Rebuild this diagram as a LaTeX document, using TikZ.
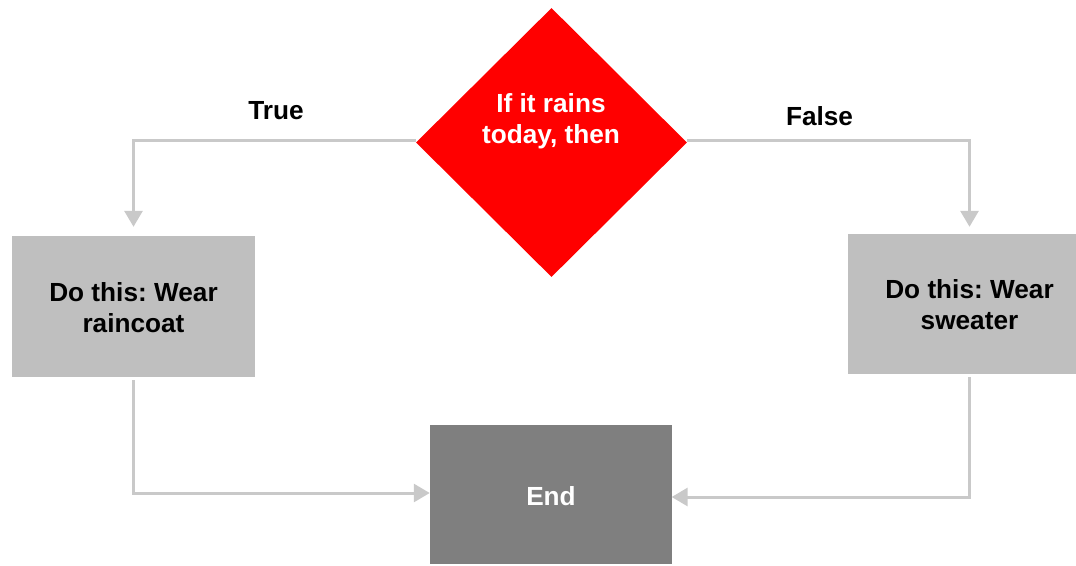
\documentclass[tikz,border=0pt]{standalone}
\usepackage{fontspec}
\setmainfont{Liberation Sans}
\usetikzlibrary{shapes.geometric,arrows.meta}
\definecolor{boxgray}{HTML}{BFBFBF}
\definecolor{endgray}{HTML}{7F7F7F}
\definecolor{linegray}{HTML}{C9C9C9}
\definecolor{decred}{HTML}{FF0000}
\frenchspacing
\begin{document}
\begin{tikzpicture}[x=1pt,y=-1pt,
  txt/.style={font=\fontsize{26.2}{31}\selectfont\bfseries\frenchspacing, align=center, inner sep=0pt},
  actbox/.style={rectangle, fill=boxgray, inner sep=0pt, minimum width=243pt, minimum height=141pt},
  endbox/.style={rectangle, fill=endgray, inner sep=0pt, minimum width=242.5pt, minimum height=139pt},
  decision/.style={diamond, fill=decred, inner sep=0pt, minimum width=271pt, minimum height=269pt},
  conn/.style={draw=linegray, line width=3pt, -{Triangle[length=16pt,width=18pt]}}
]
\useasboundingbox (0,0) rectangle (1076,565);
\clip (0,0) rectangle (1076,565);
\node[decision] (d) at (551.5,142.5) {};
\node[txt, text=white] (dt) at (551,121) {If it rains\\today, then};
\node[actbox] (r) at (133.5,306.5) {};
\node[txt] (rt) at (133.5,308) {Do this: Wear\\raincoat};
\node[actbox, minimum height=140pt] (s) at (969.5,304) {};
\node[txt] (st) at (969.5,304.5) {Do this: Wear\\sweater};
\node[endbox] (e) at (551.2,494.5) {};
\node[txt, text=white] (et) at (551,496) {End};
\node[txt] (t) at (276,110.5) {True};
\node[txt] (f) at (819.5,116) {False};
\draw[conn, shorten >=9pt] ([yshift=2pt]d.west) -| (r.north);
\draw[conn, shorten >=7pt] ([yshift=2pt]d.east) -| (s.north);
\draw[conn, shorten <=3pt] (r.south) |- ([yshift=1.5pt]e.west);
\draw[conn, shorten <=3pt, shorten >=-1pt] (s.south) |- ([yshift=-2.5pt]e.east);
\end{tikzpicture}
\end{document}
